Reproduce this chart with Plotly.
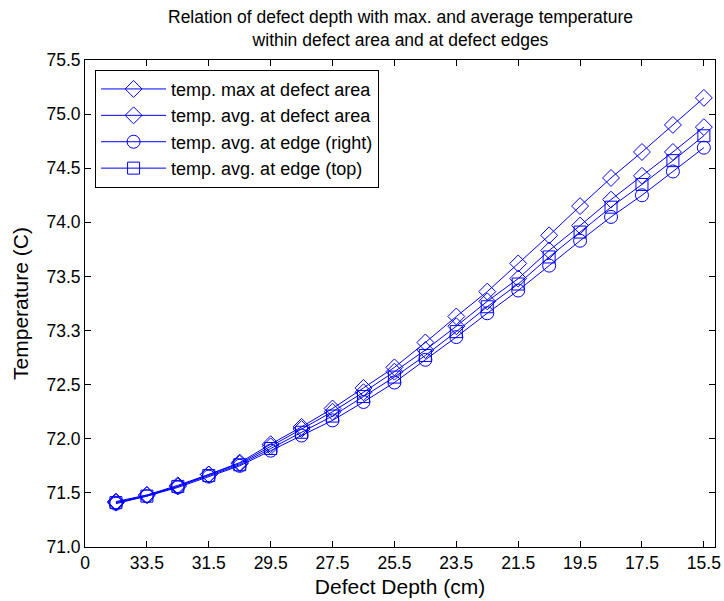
import plotly.graph_objects as go

depth = [34.5, 33.5, 32.5, 31.5, 30.5, 29.5, 28.5, 27.5, 26.5, 25.5,
         24.5, 23.5, 22.5, 21.5, 20.5, 19.5, 18.5, 17.5, 16.5, 15.5]

t_max_area = [71.42, 71.48, 71.57, 71.67, 71.78, 71.95, 72.11, 72.28, 72.47, 72.66,
              72.89, 73.13, 73.36, 73.62, 73.88, 74.15, 74.41, 74.65, 74.90, 75.15]
t_avg_area = [71.41, 71.48, 71.56, 71.67, 71.77, 71.93, 72.09, 72.25, 72.43, 72.62,
              72.82, 73.04, 73.27, 73.48, 73.74, 73.97, 74.21, 74.43, 74.65, 74.88]
t_edge_right = [71.40, 71.47, 71.55, 71.65, 71.75, 71.89, 72.03, 72.17, 72.34, 72.52,
                72.73, 72.94, 73.16, 73.37, 73.60, 73.83, 74.05, 74.25, 74.47, 74.69]
t_edge_top = [71.41, 71.47, 71.56, 71.66, 71.76, 71.91, 72.06, 72.21, 72.39, 72.57,
              72.77, 72.99, 73.22, 73.43, 73.68, 73.91, 74.14, 74.35, 74.57, 74.80]

x_tickvals = [35.5, 33.5, 31.5, 29.5, 27.5, 25.5, 23.5, 21.5, 19.5, 17.5, 15.5]
x_ticktext = ["0", "33.5", "31.5", "29.5", "27.5", "25.5", "23.5", "21.5", "19.5", "17.5", "15.5"]
y_tickvals = [71.0, 71.5, 72.0, 72.5, 73.0, 73.5, 74.0, 74.5, 75.0, 75.5]
y_ticktext = ["71.0", "71.5", "72.0", "72.5", "73.3", "73.5", "74.0", "74.5", "75.0", "75.5"]

title_text = "Relation of defect depth with max. and average temperature<br>within defect area and at defect edges"

series = [
    ("temp. max at defect area", t_max_area, "diamond-open"),
    ("temp. avg. at defect area", t_avg_area, "diamond-open"),
    ("temp. avg. at edge (right)", t_edge_right, "circle-open"),
    ("temp. avg. at edge (top)", t_edge_top, "square-open"),
]

fig = go.Figure()
for i, (name, vals, sym) in enumerate(series):
    fig.add_trace(go.Scatter(
        x=depth, y=vals, name=name, mode="lines+markers",
        line=dict(color="#0000ff", width=1),
        marker=dict(symbol=sym, size=13 if sym != "square-open" else 12,
                    color="#0000ff", line=dict(width=1, color="#0000ff")),
    ))

font = "Liberation Sans, Arial, sans-serif"
fig.update_layout(
    width=724, height=601,
    margin=dict(l=85, r=9, t=60, b=54),
    paper_bgcolor="white", plot_bgcolor="white",
    font=dict(family=font, size=17.5, color="black"),
    xaxis=dict(range=[35.5, 15.14], tickvals=x_tickvals, ticktext=x_ticktext,
               ticks="inside", ticklen=6, tickcolor="black",
               showline=True, linecolor="black", linewidth=1, mirror="ticks",
               showgrid=False, zeroline=False, automargin=False,
               title=dict(text="Defect Depth (cm)", standoff=7)),
    yaxis=dict(range=[71.0, 75.5], tickvals=y_tickvals, ticktext=y_ticktext,
               ticks="inside", ticklen=6, tickcolor="black",
               showline=True, linecolor="black", linewidth=1, mirror="ticks",
               showgrid=False, zeroline=False, automargin=False,
               title=dict(text="Temperature (C)", standoff=12)),
    legend=dict(x=0.016, y=0.98, xanchor="left", yanchor="top",
                bgcolor="white", bordercolor="black", borderwidth=1,
                font=dict(size=18, family=font), itemwidth=65),
    showlegend=True,
    annotations=[dict(text=title_text, xref="paper", yref="paper", x=0.5, y=1,
                      xanchor="center", yanchor="bottom", yshift=8, showarrow=False,
                      font=dict(size=17.5, family=font))],
)

fig.write_html("out.html")
